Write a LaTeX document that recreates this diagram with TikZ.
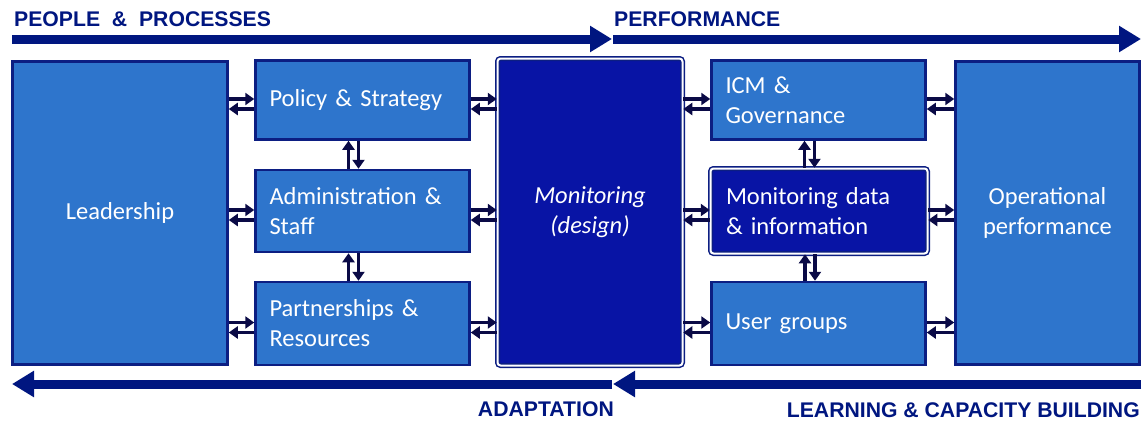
\documentclass[tikz,border=0pt]{standalone}
\usepackage{fontspec}
\setmainfont{Carlito}
\newfontfamily\headfont{Liberation Sans}
\usetikzlibrary{arrows.meta}

\definecolor{navytext}{RGB}{0,22,128}
\definecolor{boxfill}{RGB}{46,117,204}
\definecolor{boxline}{RGB}{12,30,130}
\definecolor{darkfill}{RGB}{8,20,165}
\definecolor{linkcol}{RGB}{10,10,70}

\tikzset{
  box/.style={draw=boxline, fill=boxfill, line width=2.5pt, text=white,
    font=\fontsize{24.5}{30}\selectfont, inner sep=0pt},
  leftbox/.style={box, text width=186pt, align=left, minimum width=214pt, minimum height=80pt},
  bigbox/.style={box, align=center, minimum width=215pt, minimum height=303pt},
  darkbox/.style={draw=boxline, double=white, double distance=2pt, line width=1.5pt,
    fill=darkfill, rounded corners=3pt, text=white,
    font=\fontsize{24.5}{30}\selectfont, inner sep=0pt},
  link/.style={draw=linkcol, line width=3.5pt, -{Triangle[length=9pt,width=12pt]}},
  bigarrow/.style={draw=navytext, line width=9pt, -{Triangle[length=22pt,width=25pt]}},
  head/.style={text=navytext, inner sep=0pt, font=\headfont\bfseries\fontsize{21.2}{25}\selectfont}
}

\begin{document}
\begin{tikzpicture}[x=1pt,y=-1pt]
  \useasboundingbox (0,0) rectangle (1145,421);

  % titres en haut et en bas
  \node[head, anchor=base west] (tpeople) at (14,26) {PEOPLE\ \ \&\ \ PROCESSES};
  \node[head, anchor=base west] (tperf) at (614,26) {PERFORMANCE};
  \node[head, anchor=base east] (tadapt) at (614,416) {ADAPTATION};
  \node[head, anchor=base east] (tlearn) at (1140,417) {LEARNING \& CAPACITY BUILDING};

  % grandes flèches
  \coordinate (top0) at (12,39);
  \coordinate (top1) at (612,39);
  \coordinate (top2) at (1141,39);
  \coordinate (bot0) at (12,384);
  \coordinate (bot1) at (612,384);
  \coordinate (bot2) at (1141,384);
  \draw[bigarrow] (top0) -- (top1);
  \draw[bigarrow] ([xshift=1pt]top1) -- (top2);
  \draw[bigarrow] (bot1) -- (bot0);
  \draw[bigarrow] (bot2) -- ([xshift=1pt]bot1);

  % colonne de gauche
  \node[bigbox] (lead) at (120,213) {Leadership};
  \node[leftbox, minimum height=79pt] (pol) at (362.5,100) {Policy \& Strategy};
  \node[leftbox, minimum height=82pt] (adm) at (362.5,211) {Administration \&\\Staff};
  \node[leftbox, minimum height=83pt] (part) at (362.5,323.5) {Partnerships \&\\Resources};

  % centre
  \node[darkbox, align=center, minimum width=185pt, minimum height=307pt] (mon) at (590,212)
    {\itshape Monitoring\\\itshape (design)};

  % colonne de droite
  \node[leftbox, minimum height=79pt] (icm) at (818.5,100) {ICM \&\\Governance};
  \node[darkbox, text width=186pt, align=left, minimum width=217pt, minimum height=85pt] (mdata) at (819,211)
    {Monitoring data\\\& information};
  \node[leftbox, minimum height=83pt] (user) at (818.5,323.5) {User groups};
  \node[bigbox, minimum width=184pt] (oper) at (1047.5,213) {Operational\\performance};

  % flèches doubles horizontales
  \foreach \a/\b/\r in {lead/pol/pol, lead/adm/adm, lead/part/part,
                        pol/mon/pol, adm/mon/adm, part/mon/part,
                        mon/icm/icm, mon/mdata/mdata, mon/user/user,
                        icm/oper/icm, mdata/oper/mdata, user/oper/user}{
    \draw[link] ([yshift=1pt]\a.east |- \r.center) -- ([yshift=1pt]\b.west |- \r.center);
    \draw[link] ([yshift=-9pt]\b.west |- \r.center) -- ([yshift=-9pt]\a.east |- \r.center);
  }

  % flèches doubles verticales
  \foreach \a/\b in {pol/adm, adm/part, icm/mdata, mdata/user}{
    \draw[link] ([xshift=-14pt]\a.south |- \b.north) -- ([xshift=-14pt]\a.south);
    \draw[link] ([xshift=-4pt]\a.south) -- ([xshift=-4pt]\a.south |- \b.north);
  }
\end{tikzpicture}
\end{document}
